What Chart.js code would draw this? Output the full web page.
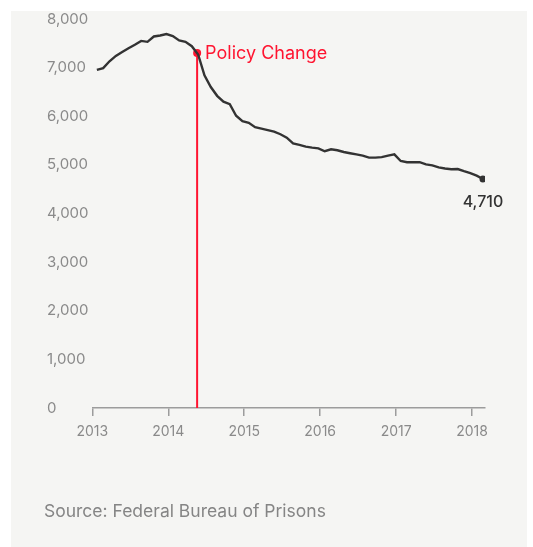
<!DOCTYPE html>
<html>
<head>
<meta charset="utf-8">
<script src="https://cdn.jsdelivr.net/npm/chart.js@4"></script>
<style>
  body { margin: 0; background: #fff; font-family: Inter, "Liberation Sans", Arial, sans-serif; }
  #bg { position: absolute; left: 11px; top: 11px; width: 516px; height: 536px; background: #f5f5f3; }
  #c { position: absolute; left: 0; top: 0; }
  #src { position: absolute; left: 44px; top: 500px; font-size: 17.5px; color: #858585; }
</style>
</head>
<body>
<div id="bg"></div>
<canvas id="c" width="533" height="547"></canvas>
<div id="src">Source: Federal Bureau of Prisons</div>
<script>
// monthly counts, Feb 2013 .. Feb 2018
const startYear = 2013.06;
const monthlyValues = [
  6955, 6990, 7130, 7240, 7320, 7400, 7470, 7550, 7530, 7640, 7660, 7690,
  7650, 7560, 7530, 7440, 7270, 6840, 6600, 6420, 6300, 6250, 6010, 5900,
  5865, 5775, 5745, 5715, 5685, 5630, 5560, 5440, 5410, 5375, 5355, 5340,
  5280, 5320, 5300, 5265, 5240, 5215, 5190, 5150, 5150, 5160, 5190, 5215,
  5080, 5055, 5055, 5055, 5010, 4990, 4950, 4925, 4910, 4915, 4870, 4830,
  4780, 4710
];
const yearTicks = [2013, 2014, 2015, 2016, 2017, 2018];
const valueTicks = [0, 1000, 2000, 3000, 4000, 5000, 6000, 7000, 8000];
const policyYear = 2014.38;
const policyValue = 7300;
const policyLabel = 'Policy Change';

const FONT = 'Inter, "Liberation Sans", Arial, sans-serif';
const seriesPoints = monthlyValues.map((v, i) => ({ x: startYear + i / 12, y: v }));
const lastIndex = seriesPoints.length - 1;

const labelsPlugin = {
  id: 'labels',
  afterDatasetsDraw(chart) {
    const ctx = chart.ctx;
    const p = chart.getDatasetMeta(1).data[1];
    const last = chart.getDatasetMeta(0).data[lastIndex];
    ctx.save();
    ctx.font = '18px ' + FONT;
    ctx.fillStyle = '#ff1430';
    ctx.textAlign = 'left';
    ctx.textBaseline = 'middle';
    ctx.fillText(policyLabel, p.x + 8, p.y + 1);
    ctx.fillStyle = '#333';
    ctx.font = '500 16px ' + FONT;
    ctx.textAlign = 'center';
    ctx.fillText(monthlyValues[lastIndex].toLocaleString('en-US'), last.x, last.y + 23);
    ctx.restore();
  }
};

new Chart(document.getElementById('c'), {
  type: 'line',
  data: {
    datasets: [{
      data: seriesPoints,
      borderColor: '#333',
      borderWidth: 2.4,
      pointRadius: seriesPoints.map((p, i) => i === lastIndex ? 3.5 : 0),
      pointBackgroundColor: '#333',
      pointBorderWidth: 0,
      tension: 0
    }, {
      data: [{ x: policyYear, y: 0 }, { x: policyYear, y: policyValue }],
      borderColor: '#ff1430',
      borderWidth: 2,
      pointRadius: [0, 4],
      pointBackgroundColor: '#ff1430',
      pointBorderWidth: 0
    }]
  },
  options: {
    responsive: false,
    animation: false,
    layout: { padding: { left: 47, top: 19, right: 48, bottom: 99 } },
    plugins: { legend: { display: false }, tooltip: { enabled: false } },
    scales: {
      x: {
        type: 'linear',
        min: 2013,
        max: 2018.17,
        afterBuildTicks: s => { s.ticks = yearTicks.map(v => ({ value: v })); },
        afterFit: s => { s.height = 40; },
        ticks: {
          callback: v => String(v),
          color: '#8a8a8a',
          font: { size: 14, family: FONT },
          padding: 7,
          maxRotation: 0
        },
        grid: { drawOnChartArea: false, tickLength: 8, color: '#9c9c9c', lineWidth: 1.5 },
        border: { display: true, color: '#9c9c9c', width: 1.5 }
      },
      y: {
        min: 0,
        max: 8000,
        afterBuildTicks: s => { s.ticks = valueTicks.map(v => ({ value: v })); },
        afterFit: s => { s.width = 45.3; },
        ticks: {
          crossAlign: 'far',
          callback: v => v.toLocaleString('en-US'),
          color: '#8a8a8a',
          font: { size: 15, family: FONT }
        },
        grid: { display: false },
        border: { display: false }
      }
    }
  },
  plugins: [labelsPlugin]
});
</script>
</body>
</html>
